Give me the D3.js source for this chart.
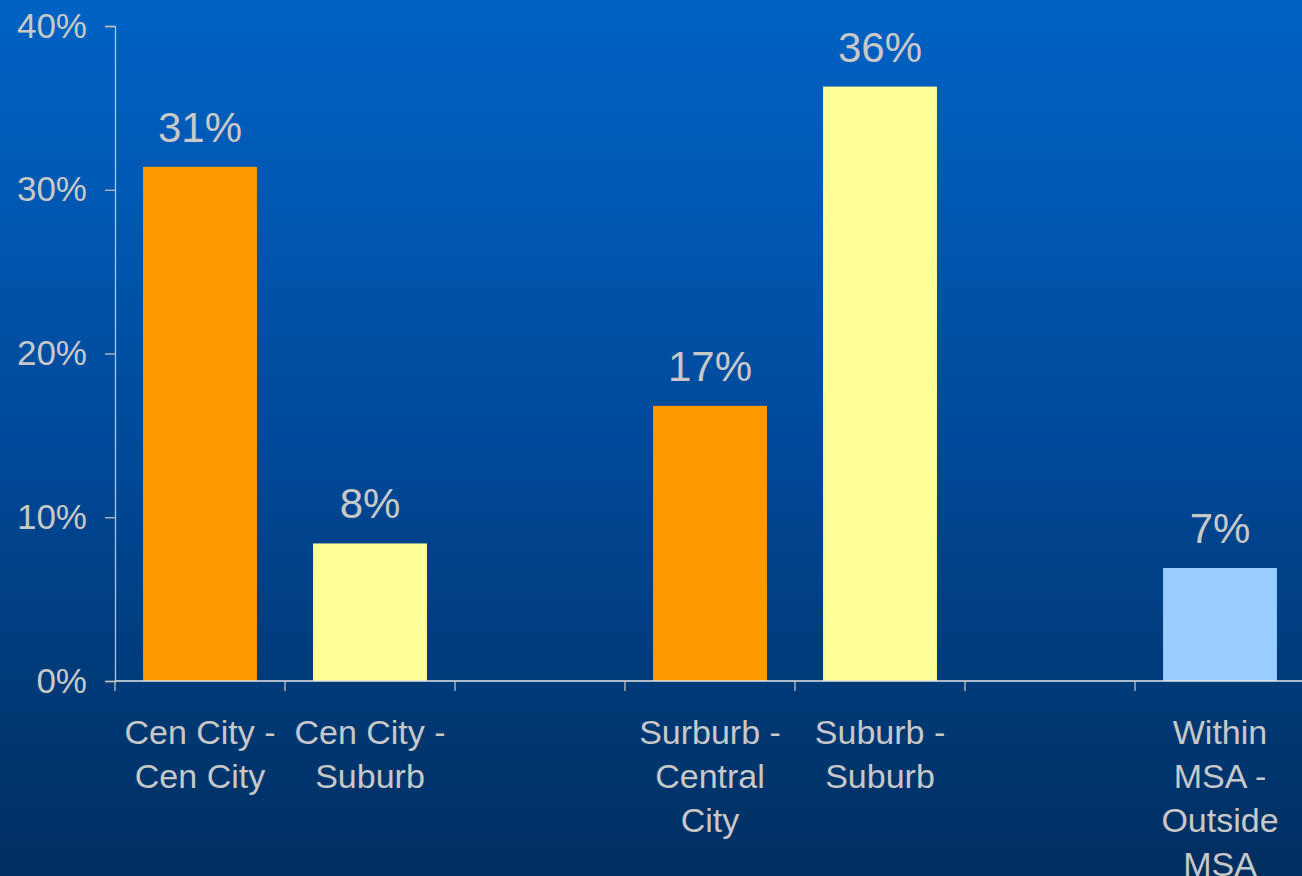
<!DOCTYPE html>
<html>
<head>
<meta charset="utf-8">
<script src="https://cdn.jsdelivr.net/npm/d3@7/dist/d3.min.js"></script>
<style>
  html, body { margin: 0; padding: 0; overflow: hidden; }
  svg { display: block; }
  text { font-family: "Liberation Sans", Arial, sans-serif; }
</style>
</head>
<body>
<script>
// Trip types by origin/destination; blank slots leave gaps between groups
const categories = ["Cen City - Cen City", "Cen City - Suburb", "gap1",
                    "Surburb - Central City", "Suburb - Suburb", "gap2",
                    "Within MSA - Outside MSA"];
const categoryLines = [["Cen City -", "Cen City"], ["Cen City -", "Suburb"], [],
                       ["Surburb -", "Central", "City"], ["Suburb -", "Suburb"], [],
                       ["Within", "MSA -", "Outside", "MSA"]];
const shares = [0.314, 0.084, null, 0.168, 0.363, null, 0.069];
const barColors = ["#ff9900", "#ffff99", null, "#ff9900", "#ffff99", null, "#99ccff"];
const yTicks = [0, 0.1, 0.2, 0.3, 0.4];

const W = 1302, H = 876;
const svg = d3.select("body").append("svg").attr("width", W).attr("height", H);

const defs = svg.append("defs");
const grad = defs.append("linearGradient").attr("id", "bg")
  .attr("x1", 0).attr("y1", 0).attr("x2", 0).attr("y2", 1);
[["0%", "#0062c4"], ["25%", "#0057b0"], ["50%", "#00499a"], ["75%", "#003c7c"], ["100%", "#002e60"]]
  .forEach(([o, c]) => grad.append("stop").attr("offset", o).attr("stop-color", c));
svg.append("rect").attr("width", W).attr("height", H).attr("fill", "url(#bg)");

const x = d3.scaleBand().domain(categories).range([115, 1305]).paddingInner(0.33).paddingOuter(0.165);
const y = d3.scaleLinear().domain([0, 0.4]).range([681, 26]);

const textColor = "#c8c8c8";
const pct = d3.format(".0%");

// Bars
const data = categories.map((c, i) => ({ c, v: shares[i], color: barColors[i] })).filter(d => d.v != null);
svg.append("g").selectAll("rect").data(data).join("rect")
  .attr("x", d => x(d.c)).attr("width", x.bandwidth())
  .attr("y", d => y(d.v)).attr("height", d => y(0) - y(d.v))
  .attr("fill", d => d.color);

// Value labels
svg.append("g").selectAll("text").data(data).join("text")
  .attr("x", d => x(d.c) + x.bandwidth() / 2)
  .attr("y", d => y(d.v) - 25)
  .attr("text-anchor", "middle")
  .attr("font-size", 42)
  .attr("fill", textColor)
  .text(d => pct(d.v));

// Y axis
const yAxis = svg.append("g").attr("transform", "translate(115,0)")
  .call(d3.axisLeft(y).tickValues(yTicks).tickFormat(pct).tickSize(10).tickPadding(18));
yAxis.select(".domain").attr("stroke", "#c0c0c0").attr("stroke-width", 1.3);
yAxis.selectAll(".tick line").attr("stroke", "#c0c0c0").attr("stroke-width", 1.3);
yAxis.selectAll(".tick text").attr("fill", textColor).attr("font-size", 35)
  .attr("font-family", "'Liberation Sans', Arial, sans-serif");

// X axis: baseline with boundary ticks between slots
const xAxis = svg.append("g").attr("class", "x-axis");
xAxis.append("line").attr("x1", 115).attr("x2", W).attr("y1", y(0)).attr("y2", y(0))
  .attr("stroke", "#e6e6e6").attr("stroke-width", 1.5);
const bounds = categories.map(c => x(c) - x.step() * x.paddingInner() / 2);
xAxis.selectAll("line.tk").data(bounds).join("line").attr("class", "tk")
  .attr("x1", d => d).attr("x2", d => d)
  .attr("y1", y(0)).attr("y2", y(0) + 10)
  .attr("stroke", "#c0c0c0").attr("stroke-width", 1.3);

// Category labels
const lab = xAxis.selectAll("text").data(categories).join("text")
  .attr("x", d => x(d) + x.bandwidth() / 2)
  .attr("y", 744)
  .attr("text-anchor", "middle")
  .attr("font-size", 34)
  .attr("fill", textColor);
lab.each(function (d, i) {
  d3.select(this).selectAll("tspan").data(categoryLines[i]).join("tspan")
    .attr("x", x(d) + x.bandwidth() / 2)
    .attr("dy", (t, j) => j === 0 ? 0 : 44)
    .text(t => t);
});
</script>
</body>
</html>
